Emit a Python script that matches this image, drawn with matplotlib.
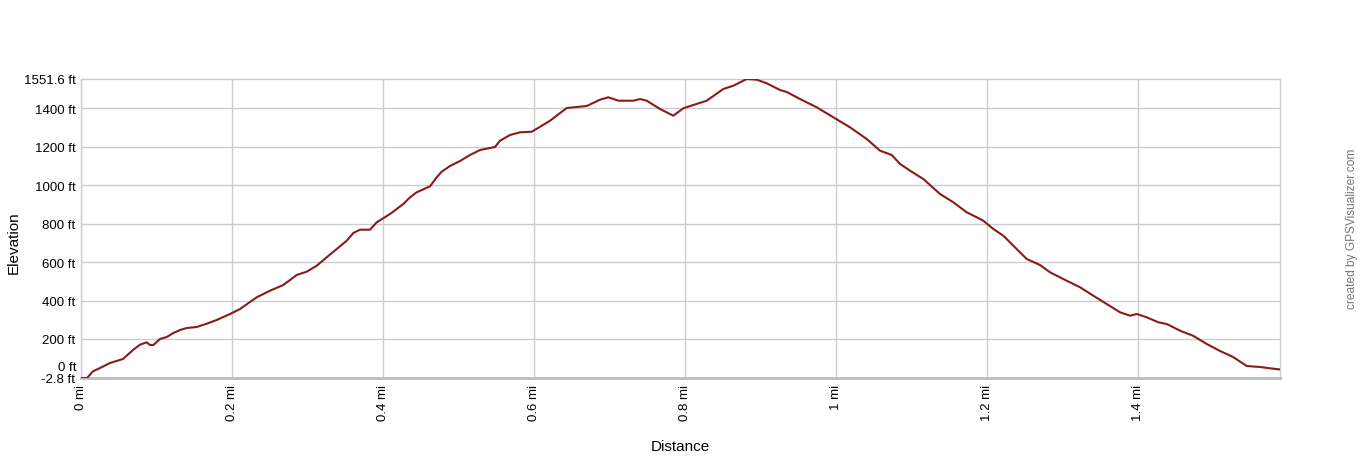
import matplotlib
matplotlib.use("Agg")
import matplotlib.pyplot as plt
import matplotlib.transforms as mtransforms

plt.rcParams['font.family'] = ['Liberation Sans', 'DejaVu Sans']

# Distance (mi) and elevation (ft)
distance_mi = [0.000, 0.008, 0.0159, 0.0252, 0.0384, 0.0556, 0.0689, 0.0781, 0.0870, 0.0914,
               0.0958, 0.1046, 0.1135, 0.1223, 0.1311, 0.1400, 0.1532, 0.1665, 0.1797, 0.1974,
               0.2106, 0.2327, 0.2503, 0.2679, 0.2857, 0.2989, 0.3122, 0.3254, 0.3387, 0.3519,
               0.3607, 0.3695, 0.3828, 0.3917, 0.4093, 0.4269, 0.4358, 0.4446, 0.4623, 0.4711,
               0.4777, 0.4887, 0.5020, 0.5152, 0.5285, 0.5417, 0.5483, 0.5550, 0.5682, 0.5815,
               0.5970, 0.6053, 0.6212, 0.6433, 0.6698, 0.6874, 0.6984, 0.7117, 0.7315, 0.7404,
               0.7493, 0.7669, 0.7845, 0.7977, 0.8110, 0.8287, 0.8507, 0.8640, 0.8817, 0.8950,
               0.9082, 0.9258, 0.9347, 0.9523, 0.9744, 0.9964, 1.0185, 1.0406, 1.0583, 1.0738,
               1.0848, 1.0980, 1.1156, 1.1377, 1.1554, 1.1731, 1.1864, 1.1951, 1.2083, 1.2216,
               1.2348, 1.2526, 1.2702, 1.2834, 1.3055, 1.3232, 1.3408, 1.3585, 1.3762, 1.3894,
               1.3983, 1.4115, 1.4269, 1.4380, 1.4556, 1.4728, 1.4910, 1.5086, 1.5258, 1.5440,
               1.5616, 1.5748, 1.5881]
elevation_ft = [-2.8, -2.8, 32.0, 49.2, 75.2, 96.0, 142.8, 170.3, 182.8, 168.7,
                168.7, 199.9, 210.3, 231.1, 246.7, 257.1, 262.3, 279.5, 298.7, 329.9,
                355.9, 416.7, 451.0, 480.7, 532.7, 549.8, 581.0, 624.7, 667.8, 711.0,
                751.0, 768.2, 768.2, 806.6, 849.8, 901.8, 936.6, 962.6, 993.8, 1040.6,
                1069.7, 1099.3, 1125.3, 1156.5, 1182.5, 1192.9, 1198.1, 1230.8, 1260.5, 1274.5,
                1277.6, 1296.9, 1334.8, 1400.8, 1411.2, 1444.0, 1456.5, 1438.8, 1438.8, 1447.6,
                1438.8, 1395.6, 1360.8, 1399.3, 1416.4, 1438.8, 1499.6, 1516.8, 1551.6, 1548.0,
                1529.2, 1494.4, 1484.0, 1447.6, 1404.5, 1352.5, 1300.5, 1239.7, 1178.9, 1156.5,
                1109.7, 1074.9, 1031.7, 953.7, 910.6, 858.6, 832.6, 814.9, 771.8, 737.0,
                685.0, 615.8, 584.6, 546.7, 503.0, 468.7, 425.0, 381.9, 338.7, 321.1,
                329.9, 312.8, 286.8, 277.9, 243.1, 217.1, 173.9, 137.6, 106.4, 59.6,
                54.4, 47.6, 41.4]

x_ticks = [0, 0.2, 0.4, 0.6, 0.8, 1.0, 1.2, 1.4]
x_tick_labels = ["0 mi", "0.2 mi", "0.4 mi", "0.6 mi", "0.8 mi", "1 mi", "1.2 mi", "1.4 mi"]
y_ticks = [-2.8, 200, 400, 600, 800, 1000, 1200, 1400, 1551.6]
y_tick_labels = ["-2.8 ft", "200 ft", "400 ft", "600 ft", "800 ft", "1000 ft", "1200 ft", "1400 ft", "1551.6 ft"]
y_min, y_max = -2.8, 1551.6
x_max = 1.588

fig = plt.figure(figsize=(13.6, 4.6), dpi=100)
ax = fig.add_axes([81 / 1360, 1 - 379 / 460, (1280 - 81) / 1360, (379 - 80) / 460])

grid_c = "#cccccc"
for yv in y_ticks[1:-1]:
    ax.axhline(yv, color=grid_c, lw=1, zorder=1)
for xv in x_ticks:
    ax.axvline(xv, color=grid_c, lw=1, zorder=1)

ax.plot(distance_mi, elevation_ft, color="#8b1a1a", lw=1.5, zorder=3, solid_joinstyle="round")

ax.set_xlim(0, x_max)
ax.set_ylim(y_min, y_max)

for side in ["top", "right", "left"]:
    ax.spines[side].set_color(grid_c)
    ax.spines[side].set_linewidth(1)
ax.spines["bottom"].set_color("#bbbbbb")
ax.spines["bottom"].set_linewidth(2)

ax.set_xticks(x_ticks)
ax.set_xticklabels(x_tick_labels, rotation=90, fontsize=9.5)
ax.set_yticks(y_ticks)
ax.set_yticklabels(y_tick_labels, fontsize=9.5)
ax.tick_params(axis="both", length=0, pad=4, colors="black")

# "0 ft" label, nudged up to avoid overlapping "-2.8 ft"
off = mtransforms.ScaledTranslation(0, 10 / 100, fig.dpi_scale_trans)
ax.text(-0.004, 0, "0 ft", transform=ax.get_yaxis_transform() + off,
        ha="right", va="center", fontsize=9.5)

fig.text(680 / 1360, 1 - 447 / 460, "Distance", ha="center", va="center", fontsize=11)
fig.text(14 / 1360, 1 - 243 / 460, "Elevation", ha="center", va="center", rotation=90, fontsize=11)
fig.text(1352 / 1360, 1 - 229 / 460, "created by GPSVisualizer.com", ha="center", va="center",
         rotation=90, fontsize=8.6, color="#777777")

fig.savefig("out.png", dpi=100)
